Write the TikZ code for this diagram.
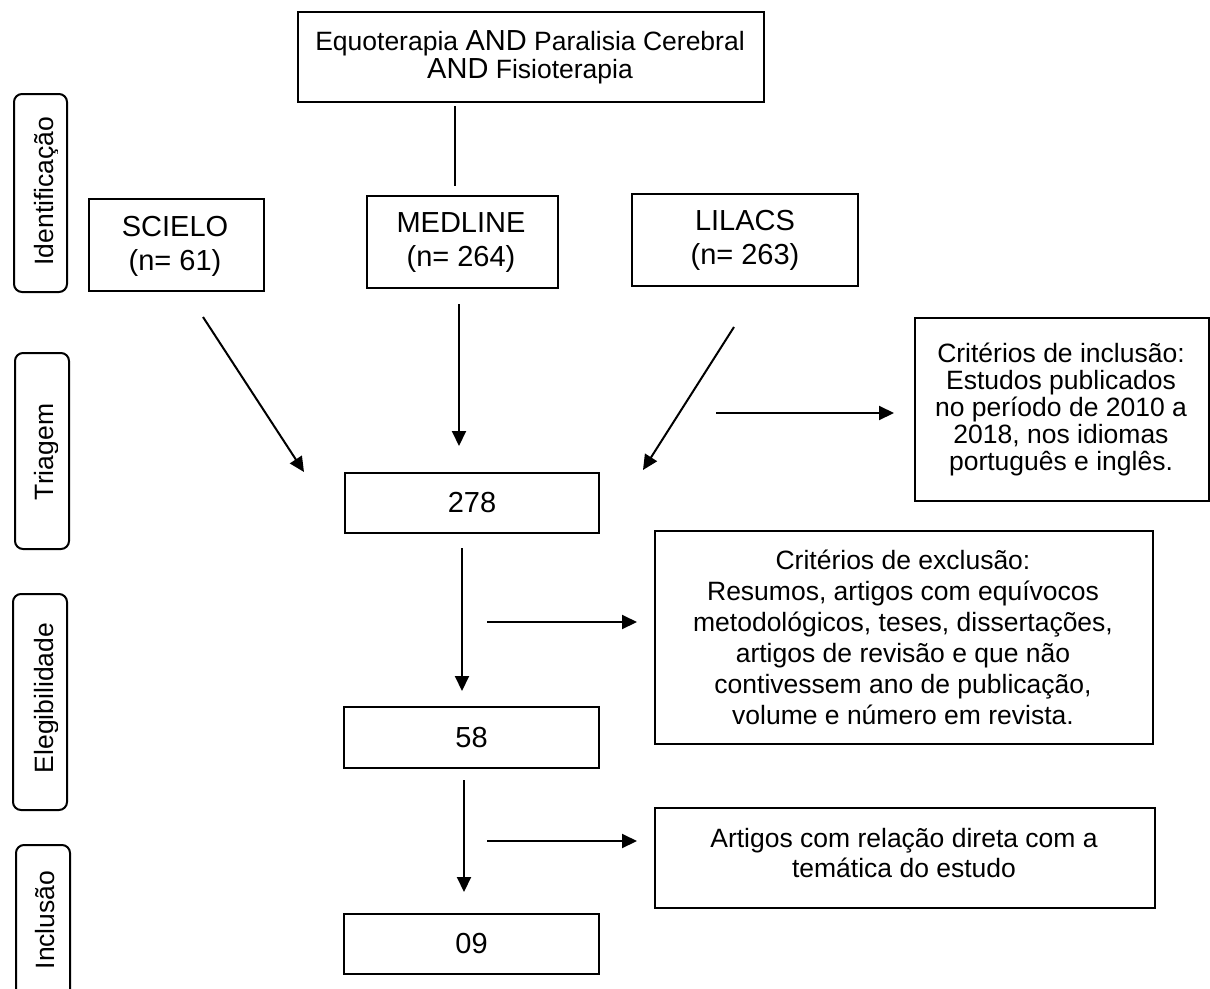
\documentclass[tikz,border=0pt]{standalone}
\usepackage{fontspec}
\setmainfont{Liberation Sans}
\usetikzlibrary{arrows.meta}
\newcommand{\mainsz}{\fontsize{26.5}{31}\selectfont}
\newcommand{\bigsz}{\fontsize{29}{34}\selectfont}
\newcommand{\andsz}{\fontsize{29}{31}\selectfont}
\tikzset{
  frame/.style={draw, line width=2pt, rectangle, inner sep=0pt, anchor=north west},
  side/.style={draw, line width=2pt, rounded corners=8pt, inner sep=0pt, anchor=north west},
  txt/.style={align=center, inner sep=0pt, font=\mainsz},
  bigtxt/.style={align=center, inner sep=0pt, font=\bigsz},
  sidetext/.style={rotate=90, anchor=base, inner sep=0pt, font=\mainsz},
  arr/.style={line width=2pt, -{Triangle[length=15pt,width=14pt]}},
  ln/.style={line width=2pt}
}
\begin{document}
\begin{tikzpicture}[x=1pt,y=-1pt]
\clip (0,0) rectangle (1210,988);
\fill[white] (0,0) rectangle (1210,988);
% ---------- boxes ----------
\node[frame, minimum width=466pt, minimum height=90pt] (top) at (297,11) {};
\node[txt] (toptxt) at (530,57)
  {Equoterapia {\andsz AND} Paralisia Cerebral\\[-3pt]{\andsz AND} Fisioterapia};
\node[frame, minimum width=175pt, minimum height=92pt] (scielo) at (88,198) {};
\node[bigtxt] (scielotxt) at (175,246) {SCIELO\\(n= 61)};
\node[frame, minimum width=191pt, minimum height=92pt] (medline) at (366,195) {};
\node[bigtxt] (medlinetxt) at (461,243) {MEDLINE\\(n= 264)};
\node[frame, minimum width=226pt, minimum height=92pt] (lilacs) at (631,193) {};
\node[bigtxt] (lilacstxt) at (745,240) {LILACS\\(n= 263)};
\node[frame, minimum width=294pt, minimum height=183pt] (incl) at (914,317) {};
\node[txt, font=\fontsize{26.5}{27}\selectfont] (incltxt) at (1061,409)
  {Critérios de inclusão:\\Estudos publicados\\no período de 2010 a\\2018, nos idiomas\\português e inglês.};
\node[frame, minimum width=254pt, minimum height=60pt] (n278) at (344,472) {};
\node[bigtxt] (n278txt) at (n278.center) {278};
\node[frame, minimum width=498pt, minimum height=213pt] (excl) at (654,530) {};
\node[txt, font=\fontsize{26.5}{31}\selectfont] (excltxt) at (903,637)
  {Critérios de exclusão:\\Resumos, artigos com equívocos\\metodológicos, teses, dissertações,\\artigos de revisão e que não\\contivessem ano de publicação,\\volume e número em revista.};
\node[frame, minimum width=255pt, minimum height=61pt] (n58) at (343,706) {};
\node[bigtxt] (n58txt) at (n58.center) {58};
\node[frame, minimum width=500pt, minimum height=100pt] (rel) at (654,807) {};
\node[txt, font=\fontsize{26.5}{30}\selectfont] (reltxt) at (904,853)
  {Artigos com relação direta com a\\temática do estudo};
\node[frame, minimum width=255pt, minimum height=60pt] (n09) at (343,913) {};
\node[bigtxt] (n09txt) at (n09.center) {09};
% ---------- side labels ----------
\node[side, minimum width=53pt, minimum height=198pt] (s1) at (13,93) {};
\node[side, minimum width=54pt, minimum height=196pt] (s2) at (14,352) {};
\node[side, minimum width=54pt, minimum height=216pt] (s3) at (12,593) {};
\node[side, minimum width=54pt, minimum height=170pt] (s4) at (15,844) {};
\begin{scope}
  \clip (0,0) rectangle (57,988);
  \node[sidetext] (s1t) at (53,191) {Identificação};
  \node[sidetext] (s2t) at (53,452) {Triagem};
  \node[sidetext] (s3t) at (53,698) {Elegibilidade};
  \node[sidetext] (s4t) at (54,920) {Inclusão};
\end{scope}
% ---------- connectors ----------
\coordinate (l1a) at (455,106); \coordinate (l1b) at (455,186);
\coordinate (a1s) at (203,317); \coordinate (a1e) at (304,472);
\coordinate (a2s) at (459,304); \coordinate (a2e) at (459,446);
\coordinate (a3s) at (734,327); \coordinate (a3e) at (643,470);
\coordinate (a4s) at (716,413); \coordinate (a4e) at (894,413);
\coordinate (a5s) at (462,548); \coordinate (a5e) at (462,691);
\coordinate (a6s) at (487,622); \coordinate (a6e) at (637,622);
\coordinate (a7s) at (464,780); \coordinate (a7e) at (464,892);
\coordinate (a8s) at (487,841); \coordinate (a8e) at (637,841);
\draw[ln] (l1a) -- (l1b);
\draw[arr] (a1s) -- (a1e);
\draw[arr] (a2s) -- (a2e);
\draw[arr] (a3s) -- (a3e);
\draw[arr] (a4s) -- (a4e);
\draw[arr] (a5s) -- (a5e);
\draw[arr] (a6s) -- (a6e);
\draw[arr] (a7s) -- (a7e);
\draw[arr] (a8s) -- (a8e);
\end{tikzpicture}
\end{document}
